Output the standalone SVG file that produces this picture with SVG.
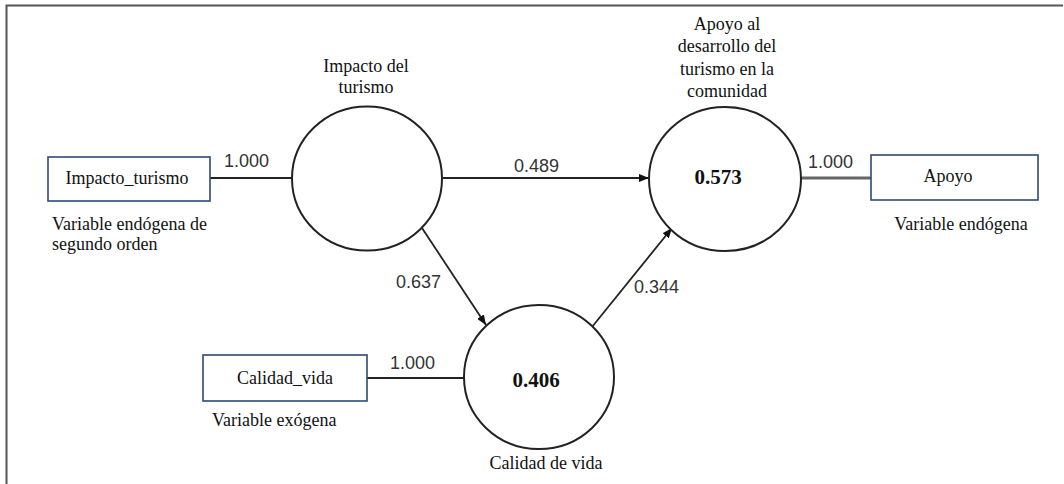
<svg xmlns="http://www.w3.org/2000/svg" width="1064" height="484" viewBox="0 0 1064 484">
<defs>
<style>
.frame{fill:none;stroke:#555;stroke-width:2}
.box{fill:#fff;stroke:#2f4a70;stroke-width:1.6}
.lat{fill:#fff;stroke:#222;stroke-width:2}
.ser{font-family:'Liberation Serif','DejaVu Serif',serif;font-size:18px;fill:#111}
.bold{font-family:'Liberation Serif','DejaVu Serif',serif;font-size:21px;font-weight:bold;fill:#111}
.num{font-family:'Liberation Sans',Arial,sans-serif;font-size:18px;fill:#333}
.con{fill:none;stroke:#222;stroke-width:1.8}
</style>
<marker id="arr" viewBox="0 0 10 8" refX="10" refY="4" markerWidth="10" markerHeight="8" markerUnits="userSpaceOnUse" orient="auto">
<path d="M0,0 L10,4 L0,8 z" fill="#111"/>
</marker>
</defs>
<rect width="1064" height="484" fill="#fff"/>
<path class="frame" d="M6.5,490 V5.5 H1063"/>
<g id="connectors">
<line class="con" x1="210" y1="178" x2="292" y2="178"/>
<line class="con" x1="443" y1="178" x2="649" y2="178" marker-end="url(#arr)"/>
<line class="con" x1="422" y1="228" x2="486" y2="325" marker-end="url(#arr)"/>
<line class="con" x1="592" y1="327" x2="672" y2="228" marker-end="url(#arr)"/>
<line x1="800" y1="178" x2="871" y2="178" stroke="#666" stroke-width="3"/>
<line class="con" x1="367" y1="378" x2="464" y2="378"/>
<text class="num" x="224" y="167">1.000</text>
<text class="num" x="514" y="172">0.489</text>
<text class="num" x="808" y="168">1.000</text>
<text class="num" x="396" y="288">0.637</text>
<text class="num" x="634" y="293">0.344</text>
<text class="num" x="390" y="369">1.000</text>
</g>
<g id="impacto_turismo_box">
<rect class="box" x="48" y="157" width="162" height="44"/>
<text class="ser" x="127" y="184" text-anchor="middle">Impacto_turismo</text>
<text class="ser" x="52" y="230">Variable endógena de</text>
<text class="ser" x="52" y="250">segundo orden</text>
</g>
<g id="impacto_latent">
<ellipse class="lat" cx="367" cy="178.5" rx="75" ry="72"/>
<text class="ser" x="366" y="72" text-anchor="middle">Impacto del</text>
<text class="ser" x="366" y="93" text-anchor="middle">turismo</text>
</g>
<g id="apoyo_latent">
<ellipse class="lat" cx="725" cy="179" rx="76" ry="72"/>
<text class="ser" x="727" y="30" text-anchor="middle">Apoyo al</text>
<text class="ser" x="727" y="52" text-anchor="middle">desarrollo del</text>
<text class="ser" x="727" y="75" text-anchor="middle">turismo en la</text>
<text class="ser" x="727" y="97" text-anchor="middle">comunidad</text>
<text class="bold" x="718" y="184" text-anchor="middle">0.573</text>
</g>
<g id="apoyo_box">
<rect class="box" x="871" y="155" width="167" height="45"/>
<text class="ser" x="948" y="182" text-anchor="middle">Apoyo</text>
<text class="ser" x="961" y="230" text-anchor="middle">Variable endógena</text>
</g>
<g id="calidad_latent">
<ellipse class="lat" cx="539" cy="377" rx="75" ry="72"/>
<text class="bold" x="536" y="387" text-anchor="middle">0.406</text>
<text class="ser" x="546" y="469" text-anchor="middle">Calidad de vida</text>
</g>
<g id="calidad_box">
<rect class="box" x="203" y="355" width="164" height="46"/>
<text class="ser" x="285" y="384" text-anchor="middle">Calidad_vida</text>
<text class="ser" x="212" y="426">Variable exógena</text>
</g>
</svg>
